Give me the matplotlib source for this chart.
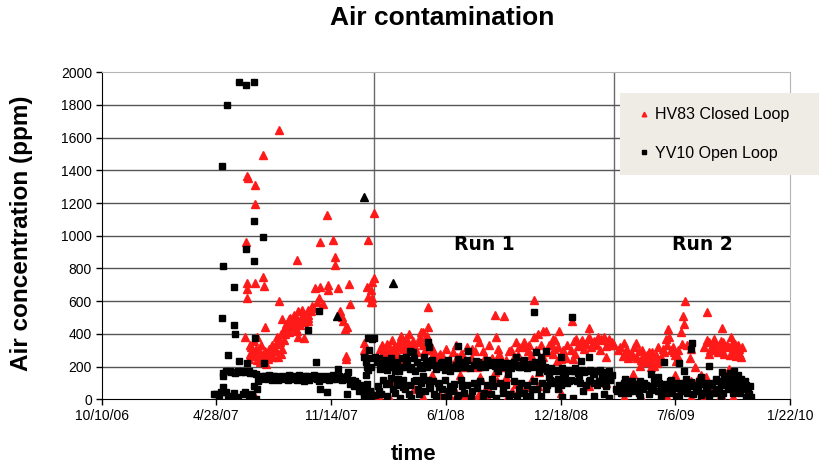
import matplotlib
matplotlib.use("Agg")
import numpy as np
import pandas as pd
import matplotlib.pyplot as plt
import matplotlib.dates as mdates
from matplotlib.ticker import FixedLocator, FuncFormatter

plt.rcParams['font.family'] = ['Liberation Sans', 'DejaVu Sans']

# axis range and run boundaries
start = pd.Timestamp("2006-10-10")
end = pd.Timestamp("2010-01-22")
run_starts = ["2008-01-28", "2009-03-22"]
run_labels = ["Run 1", "Run 2"]
run_label_dates = ["2008-08-07", "2009-08-23"]

# HV83 closed loop: days after 10/10/06, air concentration (ppm)
hv83_days = [
    309, 282, 254, 255, 268, 268, 252, 340, 282, 254,
    268, 283, 254, 254, 309, 314, 285, 250, 271, 259,
    263, 269, 273, 280, 285, 290, 294, 297, 301, 304,
    307, 312, 315, 276, 287, 257, 265, 317, 322, 326,
    329, 333, 336, 340, 343, 347, 350, 354, 319, 268,
    393, 474, 380, 404, 465, 407, 406, 474, 471, 371,
    381, 395, 395, 412, 431, 462, 469, 464, 472, 470,
    379, 376, 367, 385, 433, 360, 359, 360, 416, 419,
    421, 428, 425, 341, 343, 352, 458, 458, 426, 426,
    472, 483, 472,
    258, 261, 266, 270, 274, 278, 282, 286, 291, 295,
    299, 303, 306, 310, 313, 317, 320, 324, 327, 331,
    335, 338, 342, 345, 349, 352, 356, 360, 364, 368,
    # run 1
    569, 569, 561, 535, 531, 542, 526, 555, 565, 503,
    498, 509, 519, 526, 495, 512, 524, 503, 588, 582,
    500, 561, 608, 634, 643, 657, 665, 600, 617, 600,
    617, 626, 629, 636, 643, 650, 686, 701, 753, 655,
    657, 688, 691, 664, 722, 727, 743, 753, 760, 770,
    734, 646, 674, 705, 686, 751, 739, 660, 672, 722,
    640, 652, 708, 762, 710, 717, 739, 748, 779, 786,
    793, 820, 774, 798, 786, 849, 823, 835, 847, 859,
    870, 882, 875, 865, 830, 841, 853, 879, 887, 822,
    879, 788, 796, 770, 800, 893, 486, 491, 483,
    488, 492, 497, 502, 506, 510, 514, 518, 522, 527,
    530, 534, 538, 545, 549, 553, 557, 560, 563, 567,
    572, 576, 580, 585, 590, 595, 605, 612, 620, 628,
    633, 645, 655, 668, 676, 680, 693, 697, 704, 713,
    725, 730, 736, 745, 750, 757, 766, 776, 783, 790,
    805, 812, 818, 827, 833, 838, 844, 850, 856, 862,
    868, 873, 885, 890, 826, 810, 510, 545, 575, 590,
    615, 625, 670, 690, 715, 760, 800, 850, 880,
    # run 2
    1017, 1056, 1013, 1015, 1010, 1082, 987, 989, 984, 910,
    931, 913, 908, 922, 936, 944, 954, 961, 970, 978,
    971, 952, 939, 963, 996, 997, 1004, 1001, 1027, 1058,
    1068, 1080, 1071, 1083, 1062, 1075, 1097, 1101, 1109, 1094,
    1102, 1111, 1106, 1115, 1085, 1058, 927, 1094, 1053, 1027,
    1039, 958, 910, 1027, 1080,
    900, 903, 915, 918, 925, 928, 933, 940, 942, 948,
    950, 957, 960, 966, 968, 975, 980, 985, 992, 999,
    1005, 1012, 1020, 1025, 1035, 1045, 1050, 1055, 1060, 1065,
    1070, 1078, 1084, 1090, 1095, 1099, 1104, 1108, 1112, 1117,
    1000, 1010, 1030, 1060, 1095, 1110, 940, 985, 1050, 1100,
]
hv83_ppm = [
    1647, 1494, 1366, 1355, 1311, 1196, 964, 854, 750, 714,
    714, 695, 677, 622, 604, 488, 445, 384, 378, 335,
    293, 305, 275, 256, 293, 244, 275, 335, 317, 293,
    256, 275, 305, 226, 214, 244, 354, 427, 458, 488,
    500, 476, 518, 488, 537, 500, 549, 518, 397, 12,
    1128, 1140, 964, 976, 976, 872, 823, 744, 720, 683,
    689, 701, 671, 683, 707, 689, 671, 628, 622, 592,
    622, 592, 573, 580, 580, 549, 518, 476, 537, 506,
    476, 445, 427, 415, 384, 372, 342, 299, 262, 244,
    12, 12, 598,
    280, 320, 262, 240, 300, 330, 270, 250, 310, 300,
    260, 340, 380, 350, 400, 360, 420, 440, 410, 450,
    460, 430, 470, 455, 480, 470, 520, 500, 540, 560,
    # run 1
    567, 445, 409, 397, 372, 354, 348, 384, 384, 311,
    287, 293, 317, 305, 262, 244, 232, 232, 262, 232,
    12, 12, 12, 24, 12, 30, 12, 30, 18, 305,
    335, 275, 275, 317, 244, 293, 518, 512, 610, 378,
    348, 378, 305, 293, 348, 317, 293, 384, 397, 415,
    323, 244, 226, 134, 165, 122, 73, 134, 79, 92,
    12, 0, 18, 165, 293, 244, 317, 268, 335, 275,
    232, 476, 415, 415, 366, 439, 354, 348, 366, 354,
    366, 354, 384, 384, 323, 305, 317, 323, 335, 244,
    256, 305, 317, 256, 244, 335, 305, 275, 244,
    330, 300, 340, 270, 360, 320, 280, 350, 390, 330,
    270, 340, 310, 330, 290, 350, 410, 330, 300, 390,
    340, 300, 290, 240, 280, 260, 240, 290, 260, 230,
    200, 310, 200, 260, 330, 250, 280, 200, 240, 300,
    270, 230, 350, 330, 250, 300, 330, 290, 340, 360,
    300, 330, 300, 370, 330, 360, 340, 380, 330, 340,
    300, 360, 370, 350, 280, 250, 100, 60, 150, 20,
    60, 150, 30, 110, 50, 80, 40, 80, 100,
    # run 2
    604, 531, 512, 458, 409, 439, 427, 384, 366, 342,
    342, 287, 262, 262, 293, 262, 287, 256, 317, 305,
    232, 226, 201, 201, 317, 287, 256, 232, 305, 348,
    366, 354, 323, 323, 305, 287, 378, 348, 335, 317,
    293, 305, 262, 256, 275, 275, 153, 183, 134, 110,
    122, 195, 12, 12, 24,
    300, 320, 300, 250, 280, 320, 250, 240, 300, 230,
    270, 240, 290, 270, 220, 260, 290, 330, 300, 270,
    300, 340, 330, 250, 200, 150, 320, 360, 300, 340,
    300, 300, 350, 330, 270, 320, 340, 290, 270, 320,
    150, 60, 100, 90, 130, 70, 12, 12, 12, 12,
]

# YV10 open loop
yv10_days = [
    240, 252, 266, 219, 209, 266, 282, 252, 266, 211,
    230, 209, 231, 233, 268, 221, 240, 254, 283, 211,
    223, 230, 237, 243, 250, 257, 264, 269, 211, 195,
    216, 230, 247, 271, 269, 200, 221, 256, 276, 285,
    294, 302, 311, 321, 329, 338, 347, 355, 364, 373,
    381, 390, 399, 407, 416, 425, 433, 442, 451, 455,
    448, 379, 359, 472, 373, 476, 458, 460, 412, 430,
    465, 463, 467, 469, 476, 458, 381, 392, 428, 464,
    212, 216, 226, 233, 245, 258, 205, 208, 225, 238,
    250, 262, 266,
    273, 278, 281, 288, 291, 297, 299, 305, 308, 314,
    317, 324, 326, 332, 335, 341, 344, 350, 352, 358,
    361, 367, 370, 376, 378, 384, 387, 394, 396, 402,
    404, 410, 413, 419, 422, 428, 436, 439, 445, 453,
    457, 461, 463, 470, 466, 468,
    # run 1
    569, 571, 542, 474, 622, 486, 495, 503, 512, 521,
    530, 538, 547, 555, 565, 574, 582, 591, 600, 608,
    617, 483, 495, 507, 517, 526, 535, 544, 552, 561,
    571, 579, 588, 596, 605, 614, 622, 639, 753, 622,
    634, 652, 664, 674, 686, 699, 722, 734, 744, 757,
    765, 717, 727, 629, 646, 664, 681, 699, 727, 751,
    710, 739, 765, 620, 691, 708, 762, 820, 774, 800,
    835, 849, 770, 788, 805, 823, 841, 859, 875, 887,
    779, 796, 815, 832, 849, 867, 882, 774, 795, 839,
    875, 803, 822, 859, 884, 538, 531,
    480, 484, 489, 493, 497, 501, 505, 510, 514, 518,
    523, 527, 533, 540, 545, 550, 558, 562, 567, 576,
    580, 586, 594, 598, 603, 611, 620, 626, 630, 637,
    642, 649, 656, 660, 668, 672, 678, 684, 690, 695,
    702, 707, 713, 719, 725, 731, 737, 741, 748, 755,
    760, 767, 772, 777, 783, 790, 797, 802, 808, 813,
    820, 826, 830, 837, 845, 851, 856, 863, 869, 873,
    879, 884, 890,
    481, 487, 490, 498, 500, 504, 511, 515, 520, 525,
    529, 537, 540, 548, 553, 556, 563, 568, 573, 577,
    583, 587, 593, 599, 603, 607, 612, 627, 632, 637,
    643, 649, 655, 660, 666, 671, 678, 683, 688, 694,
    700, 705, 712, 718, 724, 731, 736, 742, 747, 754,
    759, 768, 776, 782, 788, 794, 800, 806, 812, 818,
    828, 834, 845, 852, 858, 864, 870, 876, 880, 886,
    # run 2
    1030, 1027, 980, 1006, 1015, 1058, 1082, 1102, 958, 970,
    1018, 925, 905, 913, 922, 931, 939, 949, 958, 966,
    975, 984, 992, 1001, 1010, 1018, 1027, 1036, 1044, 1053,
    1062, 1071, 1080, 1089, 1097, 1106, 1115, 1123, 939, 975,
    1001, 1044, 1080, 1123, 1132, 896, 913, 939, 966, 992,
    1044, 1071, 1097, 1115, 887,
    898, 902, 906, 910, 915, 918, 921, 927, 929, 934,
    936, 943, 946, 952, 955, 961, 963, 969, 972, 978,
    982, 988, 990, 995, 998, 1004, 1007, 1013, 1016, 1021,
    1024, 1031, 1033, 1040, 1042, 1048, 1051, 1056, 1059, 1064,
    1067, 1074, 1077, 1084, 1086, 1092, 1094, 1100, 1103, 1109,
    1112, 1118, 1121, 1126, 1130, 1128, 1110, 1095, 1085,
]
yv10_ppm = [
    1940, 1921, 1940, 1800, 1427, 1092, 994, 921, 848, 817,
    689, 500, 457, 397, 372, 268, 232, 220, 220, 140,
    171, 165, 171, 165, 165, 171, 159, 153, 73, 30,
    43, 37, 30, 61, 0, 30, 12, 12, 122, 140,
    134, 140, 128, 134, 140, 134, 128, 140, 134, 140,
    134, 122, 134, 140, 134, 122, 92, 110, 85, 73,
    49, 543, 421, 366, 226, 256, 256, 226, 183, 165,
    177, 92, 49, 12, 24, 12, 61, 43, 30, 372,
    160, 175, 168, 158, 172, 160, 20, 45, 20, 15,
    45, 30, 80,
    110, 130, 145, 125, 150, 120, 145, 130, 115, 145,
    125, 120, 150, 125, 145, 120, 150, 125, 110, 145,
    120, 130, 150, 125, 110, 145, 130, 140, 115, 125,
    150, 125, 145, 120, 135, 140, 120, 80, 100, 60,
    40, 150, 200, 200, 300, 250,
    # run 1
    348, 317, 287, 372, 323, 183, 214, 195, 171, 195,
    220, 183, 171, 207, 232, 214, 183, 220, 195, 171,
    207, 49, 92, 61, 122, 73, 30, 110, 61, 140,
    92, 30, 73, 12, 49, 92, 24, 293, 531, 244,
    226, 232, 214, 226, 201, 214, 256, 232, 214, 287,
    256, 201, 195, 79, 49, 18, 122, 61, 61, 61,
    12, 0, 18, 0, 171, 153, 165, 506, 293, 256,
    232, 256, 183, 171, 165, 171, 165, 153, 165, 140,
    134, 122, 110, 122, 110, 110, 122, 61, 61, 49,
    30, 12, 6, 18, 6, 293, 256,
    230, 250, 200, 240, 180, 225, 250, 210, 230, 175,
    250, 200, 240, 200, 250, 230, 190, 260, 200, 240,
    210, 200, 230, 180, 240, 200, 190, 210, 200, 240,
    190, 210, 230, 200, 200, 240, 210, 230, 190, 230,
    200, 220, 190, 230, 210, 200, 240, 190, 200, 230,
    200, 220, 200, 170, 190, 180, 170, 190, 160, 180,
    170, 190, 160, 180, 170, 180, 160, 170, 180, 150,
    160, 170, 150,
    80, 30, 120, 20, 100, 130, 40, 90, 10, 120,
    60, 90, 10, 120, 30, 100, 50, 120, 70, 110,
    20, 100, 60, 120, 10, 80, 50, 120, 40, 90,
    10, 100, 70, 110, 40, 90, 30, 80, 10, 100,
    40, 90, 30, 110, 20, 100, 40, 90, 20, 110,
    60, 100, 90, 120, 100, 110, 90, 130, 100, 120,
    110, 100, 90, 120, 100, 90, 110, 100, 80, 120,
    # run 2
    342, 305, 226, 220, 171, 201, 165, 171, 153, 134,
    122, 110, 73, 85, 61, 92, 67, 85, 55, 98,
    73, 92, 61, 85, 49, 79, 104, 61, 92, 73,
    98, 55, 85, 110, 73, 98, 61, 85, 12, 18,
    6, 24, 12, 12, 12, 61, 122, 110, 128, 116,
    134, 122, 140, 122, 134,
    50, 90, 40, 100, 70, 40, 100, 50, 80, 95,
    40, 60, 100, 80, 30, 70, 110, 50, 100, 60,
    40, 80, 110, 40, 70, 100, 20, 60, 100, 40,
    80, 30, 90, 50, 110, 40, 100, 60, 20, 90,
    40, 110, 60, 40, 100, 60, 120, 40, 110, 80,
    40, 70, 110, 40, 80, 30, 150, 160, 140,
]

# a few black triangles with no legend entry
other_days = [458, 411, 507]
other_ppm = [1238, 512, 714]

y_ticks = list(range(0, 2001, 200))


def to_dates(days):
    return start + pd.to_timedelta(days, unit="D")


fig = plt.figure(figsize=(8.19, 4.67), dpi=100)
ax = fig.add_axes([0.1242, 0.145, 0.8404, 0.7002])

ax.plot(to_dates(hv83_days), hv83_ppm, linestyle="none", marker="^", ms=5.5,
        color="#ff1a1a", mec="#ff1a1a", label="HV83 Closed Loop", zorder=3)
ax.plot(to_dates(yv10_days), yv10_ppm, linestyle="none", marker="s", ms=4.6,
        color="black", label="YV10 Open Loop", zorder=4)
ax.plot(to_dates(other_days), other_ppm, linestyle="none", marker="^", ms=5.5,
        color="black", zorder=4)

for d in run_starts:
    ax.axvline(pd.Timestamp(d), color="#6a6a6a", lw=1, zorder=1)
for lab, d in zip(run_labels, run_label_dates):
    ax.text(pd.Timestamp(d), 945, lab, ha="center", va="center", fontsize=13.5,
            fontweight="bold", family="DejaVu Sans")

ax.set_xlim(start, end)
ax.set_ylim(0, 2000)
xt = [mdates.date2num(start + pd.Timedelta(days=200 * k)) for k in range(7)]
ax.xaxis.set_major_locator(FixedLocator(xt))
ax.xaxis.set_major_formatter(FuncFormatter(
    lambda v, p: "{}/{}/{}".format(mdates.num2date(v).month, mdates.num2date(v).day,
                                   mdates.num2date(v).strftime("%y"))))
ax.set_yticks(y_ticks)
ax.tick_params(labelsize=10, length=4, width=1, colors="black", pad=3)
for y in y_ticks[1:-1]:
    ax.axhline(y, color="#555555", lw=1, zorder=1)

for s in ["top", "right"]:
    ax.spines[s].set_color("#b5b5b5")
for s in ["left", "bottom"]:
    ax.spines[s].set_color("black")

leg = ax.legend(loc="upper left", bbox_to_anchor=(620 / 819, 1 - 93 / 467, 240 / 819, 0),
                mode="expand", bbox_transform=fig.transFigure, fontsize=11.5, frameon=True,
                fancybox=False, framealpha=1, facecolor="#efebe5", edgecolor="none",
                handlelength=1.2, handletextpad=0.1, borderpad=0.9, labelspacing=1.45,
                markerscale=0.6, borderaxespad=0)

fig.text(442 / 819, 1 - 18 / 467, "Air contamination", ha="center", va="center",
         fontsize=19, fontweight="bold")
fig.text(22 / 819, 1 - 233 / 467, "Air concentration (ppm)", ha="center", va="center",
         rotation=90, fontsize=17.5, fontweight="bold")
fig.text(414 / 819, 1 - 455 / 467, "time", ha="center", va="center",
         fontsize=16, fontweight="bold")

fig.savefig("out.png", dpi=100)
